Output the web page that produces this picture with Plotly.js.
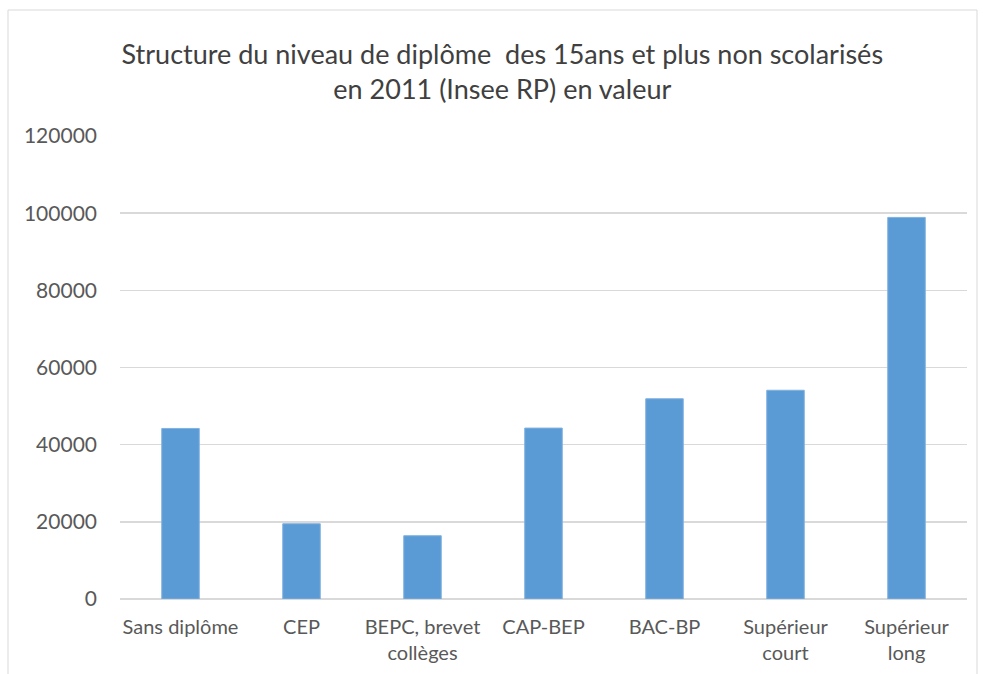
<!DOCTYPE html>
<html>
<head>
<meta charset="utf-8">
<script src="https://cdn.plot.ly/plotly-3.0.1.min.js"></script>
<style>html,body{margin:0;padding:0;background:#fff;}#chart{width:983px;height:674px;}</style>
</head>
<body>
<div id="chart"></div>
<script>
const categories = ["Sans diplôme", "CEP", "BEPC, brevet<br>collèges", "CAP-BEP", "BAC-BP", "Supérieur<br>court", "Supérieur<br>long"];
const values = [44200, 19500, 16400, 44300, 51900, 54100, 98900];
const yTicks = [0, 20000, 40000, 60000, 80000, 100000, 120000];
const titleText = "Structure du niveau de diplôme  des 15ans et plus non scolarisés<br>en 2011 (Insee RP) en valeur";

const W = 983, H = 674;
const mL = 120, mR = 16, mT = 136, mB = 75;
const pw = W - mL - mR, ph = H - mT - mB;
function px(x) { return (x - mL) / pw; }
function py(y) { return (H - mB - y) / ph; }

const font = "Lato, 'Open Sans', sans-serif";
Plotly.newPlot('chart', [{
  type: 'bar',
  x: categories,
  y: values,
  marker: {color: '#5b9bd5', line: {color: '#7fb1e0', width: 1}},
  hoverinfo: 'x+y'
}], {
  width: W, height: H,
  margin: {l: mL, r: mR, t: mT, b: mB, pad: 0},
  paper_bgcolor: '#fff', plot_bgcolor: '#fff',
  bargap: 0.69,
  font: {family: font, color: '#595959', size: 18},
  title: {
    text: titleText,
    font: {family: font, size: 27, color: '#404040'},
    xref: 'container', x: 0.511, xanchor: 'center',
    yref: 'container', y: 0.905, yanchor: 'middle'
  },
  xaxis: {
    type: 'category',
    showgrid: false, zeroline: false,
    showline: false,
    ticks: '',
    ticklabelstandoff: 14,
    tickfont: {family: font, size: 20, color: '#595959'},
    automargin: false
  },
  yaxis: {
    range: [0, 120000],
    tickvals: yTicks,
    ticktext: yTicks.map(String),
    showgrid: true, gridcolor: '#d9d9d9', gridwidth: 1.5,
    zeroline: true, zerolinecolor: '#d9d9d9', zerolinewidth: 1.5,
    showline: false, ticks: '',
    ticklabelstandoff: 22,
    tickfont: {family: font, size: 21, color: '#595959'},
    automargin: false
  },
  shapes: [{
    type: 'rect', xref: 'paper', yref: 'paper',
    x0: px(8), x1: px(977), y0: py(10), y1: py(690),
    line: {color: '#d9d9d9', width: 1}, fillcolor: 'rgba(0,0,0,0)', layer: 'below'
  }],
  showlegend: false
}, {displayModeBar: false, staticPlot: true});
</script>
</body>
</html>
